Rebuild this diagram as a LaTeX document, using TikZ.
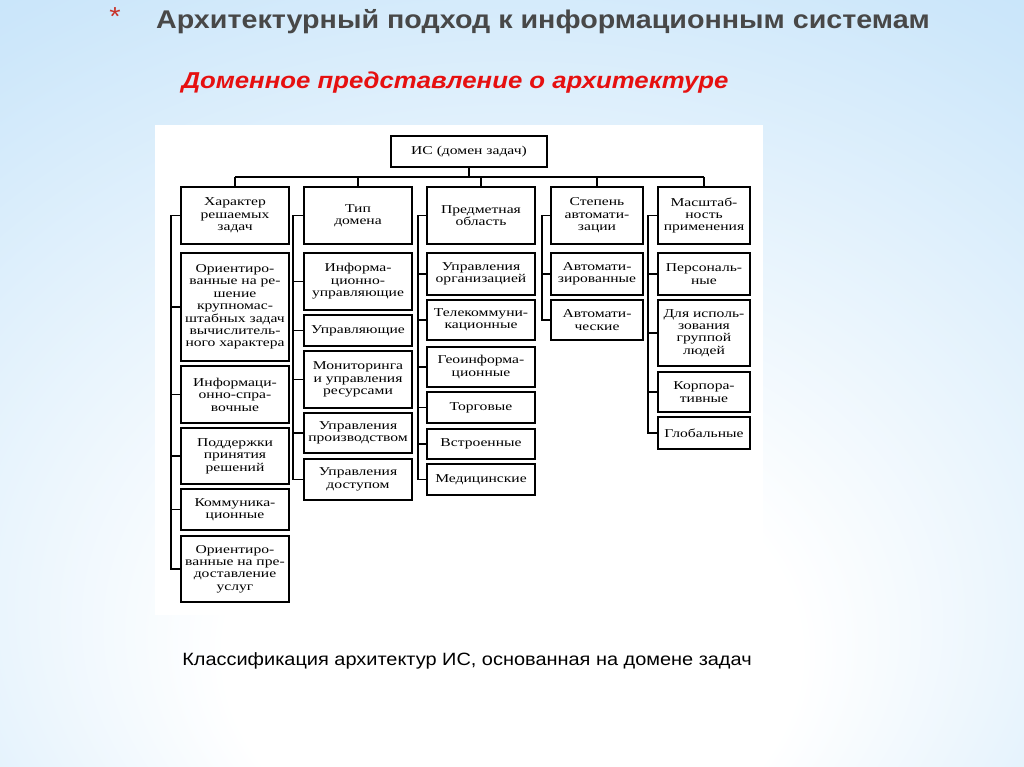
\documentclass[tikz,border=0pt]{standalone}
\usepackage{fontspec}
\setmainfont{Liberation Serif}
\newfontfamily\dg[FakeStretch=1.3]{Liberation Serif}
\newfontfamily\ar[FakeStretch=1.12]{Liberation Sans}
\definecolor{bgblue}{RGB}{160,210,244}
\definecolor{bgmid}{RGB}{205,231,250}
\definecolor{ttlgray}{RGB}{72,72,72}
\definecolor{subred}{RGB}{230,16,16}
\definecolor{starred}{RGB}{200,50,40}
\pgfdeclareradialshading{bgshade}{\pgfpoint{0bp}{-22bp}}{color(0bp)=(white);color(14bp)=(white);color(40bp)=(bgmid);color(72bp)=(bgblue)}
\newcommand\Bx[6]{\node[bx,minimum width={#4-#2},minimum height={#5-#3}] (#1) at ({(#2+#4)/2},{(#3+#5)/2}) {#6};}
\begin{document}
\begin{tikzpicture}[x=1pt,y=-1pt,
  bx/.style={draw=black,line width=1.3pt,fill=white,align=center,inner sep=0pt,font=\dg\fontsize{12}{12.4}\selectfont},
  ln/.style={line width=1.1pt,draw=black}]
\shade[shading=bgshade] (0,0) rectangle (1024,767);
\useasboundingbox (0,0) rectangle (1024,767);
\node[text=starred,font=\ar\fontsize{26}{26}\selectfont] (star) at (115,17) {*};
\node[text=ttlgray,font=\ar\bfseries\fontsize{25.6}{26}\selectfont] (title) at (543,22) {Архитектурный подход к информационным системам};
\node[text=subred,font=\ar\bfseries\itshape\fontsize{23}{23}\selectfont] (sub) at (455,83) {Доменное представление о архитектуре};
\fill[white] (155,125) rectangle (763,615);
\node[text=black,font=\ar\fontsize{17.8}{18}\selectfont] (cap) at (467,661) {Классификация архитектур ИС, основанная на домене задач};
% root and headers
\Bx{root}{391}{136}{547}{167}{ИС (домен задач)}
\Bx{h1}{181}{187}{289}{244}{Характер\\решаемых\\задач}
\Bx{h2}{304}{187}{412}{244}{Тип\\домена}
\Bx{h3}{427}{187}{535}{244}{Предметная\\область}
\Bx{h4}{551}{187}{643}{244}{Степень\\автомати-\\зации}
\Bx{h5}{658}{187}{750}{244}{Масштаб-\\ность\\применения}
% column 1
\Bx{a1}{181}{253}{289}{361}{Ориентиро-\\ванные на ре-\\шение\\крупномас-\\штабных задач\\вычислитель-\\ного характера}
\Bx{a2}{181}{366}{289}{423}{Информаци-\\онно-спра-\\вочные}
\Bx{a3}{181}{428}{289}{484}{Поддержки\\принятия\\решений}
\Bx{a4}{181}{489}{289}{530}{Коммуника-\\ционные}
\Bx{a5}{181}{536}{289}{602}{Ориентиро-\\ванные на пре-\\доставление\\услуг}
% column 2
\Bx{b1}{304}{253}{412}{310}{Информа-\\ционно-\\управляющие}
\Bx{b2}{304}{315}{412}{346}{Управляющие}
\Bx{b3}{304}{351}{412}{408}{Мониторинга\\и управления\\ресурсами}
\Bx{b4}{304}{413}{412}{453}{Управления\\производством}
\Bx{b5}{304}{459}{412}{500}{Управления\\доступом}
% column 3
\Bx{c1}{427}{253}{535}{295}{Управления\\организацией}
\Bx{c2}{427}{300}{535}{340}{Телекоммуни-\\кационные}
\Bx{c3}{427}{347}{535}{387}{Геоинформа-\\ционные}
\Bx{c4}{427}{392}{535}{423}{Торговые}
\Bx{c5}{427}{429}{535}{459}{Встроенные}
\Bx{c6}{427}{464}{535}{495}{Медицинские}
% column 4
\Bx{d1}{551}{253}{643}{295}{Автомати-\\зированные}
\Bx{d2}{551}{300}{643}{340}{Автомати-\\ческие}
% column 5
\Bx{e1}{658}{253}{750}{295}{Персональ-\\ные}
\Bx{e2}{658}{300}{750}{366}{Для исполь-\\зования\\группой\\людей}
\Bx{e3}{658}{372}{750}{412}{Корпора-\\тивные}
\Bx{e4}{658}{417}{750}{449}{Глобальные}
% bus
\coordinate (bus) at (0,177);
\draw[ln] (root.south) -- (root.south |- bus);
\draw[ln] (h1.north |- bus) -- (h5.north |- bus);
\foreach \h in {h1,h2,h3,h4,h5} {\draw[ln] (\h.north |- bus) -- (\h.north);}
% trunks
\coordinate (t1) at (171,0);
\coordinate (t2) at (293,0);
\coordinate (t3) at (418,0);
\coordinate (t4) at (542,0);
\coordinate (t5) at (648,0);
\draw[ln] (h1.west) -- (h1.west -| t1) -- (t1 |- a5.west) -- (a5.west);
\foreach \i in {a1,a2,a3,a4} {\draw[ln] (\i.west -| t1) -- (\i.west);}
\draw[ln] (h2.west) -- (h2.west -| t2) -- (t2 |- b5.west) -- (b5.west);
\foreach \i in {b1,b2,b3,b4} {\draw[ln] (\i.west -| t2) -- (\i.west);}
\draw[ln] (h3.west) -- (h3.west -| t3) -- (t3 |- c6.west) -- (c6.west);
\foreach \i in {c1,c2,c3,c4,c5} {\draw[ln] (\i.west -| t3) -- (\i.west);}
\draw[ln] (h4.west) -- (h4.west -| t4) -- (t4 |- d2.west) -- (d2.west);
\draw[ln] (d1.west -| t4) -- (d1.west);
\draw[ln] (h5.west) -- (h5.west -| t5) -- (t5 |- e4.west) -- (e4.west);
\foreach \i in {e1,e2,e3} {\draw[ln] (\i.west -| t5) -- (\i.west);}
\end{tikzpicture}
\end{document}
